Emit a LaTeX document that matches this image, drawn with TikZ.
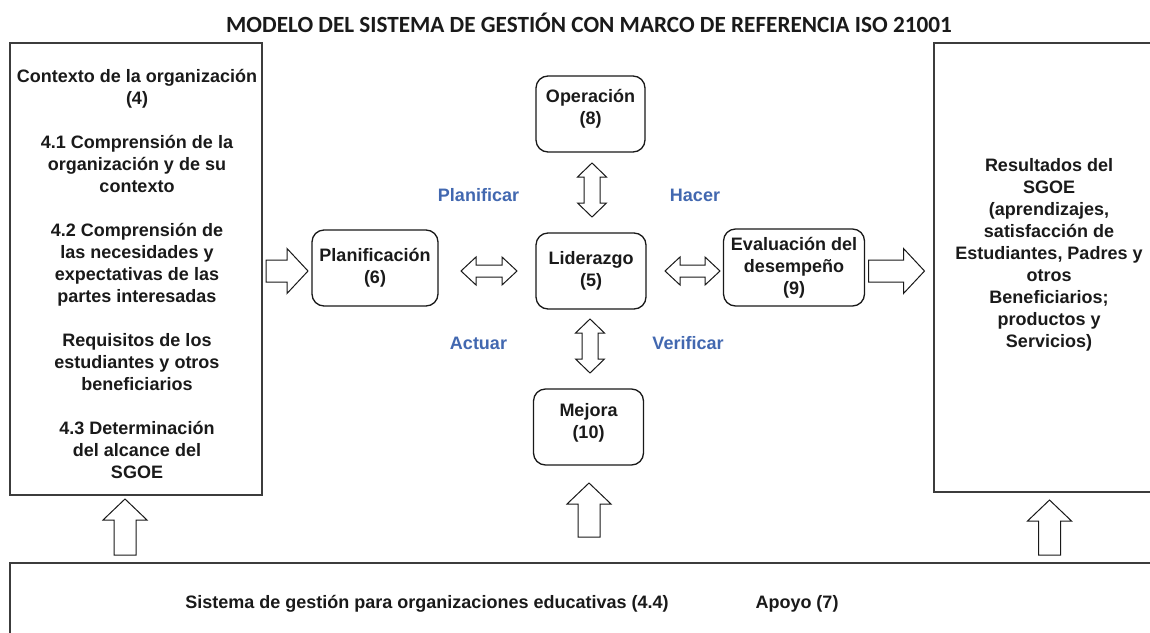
\documentclass[tikz,border=0pt]{standalone}
\usepackage{fontspec}
\setmainfont{Liberation Sans}
\newfontfamily\titlefont{Carlito}
\usetikzlibrary{calc}
\definecolor{txtc}{RGB}{26,26,26}
\definecolor{boxline}{RGB}{60,60,60}
\definecolor{bluelbl}{RGB}{66,104,176}
\begin{document}
\begin{tikzpicture}[x=1pt,y=-1pt,
  bodyfont/.style={font=\fontsize{18}{22}\selectfont\bfseries, text=txtc},
  rbox/.style={draw=black!90, line width=1.3pt, rounded corners=12pt, inner sep=0pt, outer sep=0pt, align=center, bodyfont},
  bigbox/.style={draw=boxline, line width=1.5pt, inner sep=0pt, outer sep=0pt, align=center, bodyfont},
  txt/.style={align=center, bodyfont, inner sep=0pt},
  lbl/.style={font=\fontsize{18}{22}\selectfont\bfseries, text=bluelbl, inner sep=0pt},
  arrowline/.style={draw=black!90, line width=1pt, line join=miter, fill=white},
  pics/dharrow/.style={code={
    \draw[arrowline] (0,0) -- (15,-14) -- (15,-6) -- (#1-15,-6) -- (#1-15,-14) -- (#1,0) -- (#1-15,14) -- (#1-15,6) -- (15,6) -- (15,14) -- cycle;}},
  pics/dvarrow/.style={code={
    \draw[arrowline] (0,0) -- (14.5,14) -- (8,14) -- (8,#1-14) -- (14.5,#1-14) -- (0,#1) -- (-14.5,#1-14) -- (-8,#1-14) -- (-8,14) -- (-14.5,14) -- cycle;}},
  pics/rarrow/.style={code={
    \draw[arrowline] (0,-11) -- (#1-21,-11) -- (#1-21,-22.5) -- (#1,0) -- (#1-21,22.5) -- (#1-21,11) -- (0,11) -- cycle;}},
  pics/uarrow/.style={code={
    \draw[arrowline] (0,0) -- (22,21) -- (11,21) -- (11,#1) -- (-11,#1) -- (-11,21) -- (-22,21) -- cycle;}}
]
\useasboundingbox[fill=white] (0,0) rectangle (1150,632);

% title
\node[inner sep=0pt, font=\titlefont\fontsize{23.2}{26}\selectfont\bfseries, text=txtc] (title) at (589,23) {MODELO DEL SISTEMA DE GESTIÓN CON MARCO DE REFERENCIA ISO 21001};

% big boxes
\node[bigbox, minimum width=252pt, minimum height=452pt] (ctx) at (136,269) {};
\node[txt] (ctxtext) at (137,274) {Contexto de la organización\\(4)\\[22pt]4.1 Comprensión de la\\organización y de su\\contexto\\[22pt]4.2 Comprensión de\\las necesidades y\\expectativas de las\\partes interesadas\\[22pt]Requisitos de los\\estudiantes y otros\\beneficiarios\\[22pt]4.3 Determinación\\del alcance del\\SGOE};
\node[bigbox, minimum width=231pt, minimum height=449pt] (res) at (1049.5,267.5) {};
\node[txt] (restext) at (1049,255) {Resultados del\\SGOE\\(aprendizajes,\\satisfacción de\\Estudiantes, Padres y\\otros\\Beneficiarios;\\productos y\\Servicios)};
\node[bigbox, minimum width=1155pt, minimum height=97pt] (sys) at (587.5,611.5) {};
\node[txt] (systext) at (427,604) {Sistema de gestión para organizaciones educativas (4.4)};
\node[txt] (apoyo) at (797,604) {Apoyo (7)};

% rounded boxes
\node[rbox, minimum width=109pt, minimum height=76pt] (op) at (590.5,114) {};
\node[txt] (optext) at (590.5,109) {Operación\\(8)};
\node[rbox, minimum width=110pt, minimum height=76pt] (lid) at (591,271) {Liderazgo\\(5)};
\node[rbox, minimum width=126pt, minimum height=76pt] (plan) at (375,268) {Planificación\\(6)};
\node[rbox, minimum width=141pt, minimum height=77pt] (eval) at (794,267.5) {Evaluación del\\desempeño\\(9)};
\node[rbox, minimum width=110pt, minimum height=76pt] (mej) at (588.5,427) {};
\node[txt] (mejtext) at (588.5,423) {Mejora\\(10)};

% PDCA labels
\node[lbl] (planificar) at (478.5,195) {Planificar};
\node[lbl] (hacer) at (695,195) {Hacer};
\node[lbl] (actuar) at (478.5,343) {Actuar};
\node[lbl] (verificar) at (688,343) {Verificar};

% block arrows
\pic at ($(ctx.east |- lid.center)+(4,0)$) {rarrow=42};
\pic at ($(plan.east |- lid.center)+(23,0)$) {dharrow=56};
\pic at ($(lid.east)+(19,0)$) {dharrow=55};
\pic at ($(eval.east |- lid.center)+(4,0)$) {rarrow=56};
\pic at ($(op.south)+(1.5,11)$) {dvarrow=54};
\pic at ($(lid.south)+(-1,10)$) {dvarrow=54};
\pic at ($(ctx.south)+(-11,4)$) {uarrow=56};
\pic at ($(mej.south)+(0.5,18)$) {uarrow=54};
\pic at ($(res.south)+(0,8)$) {uarrow=55};
\end{tikzpicture}
\end{document}
